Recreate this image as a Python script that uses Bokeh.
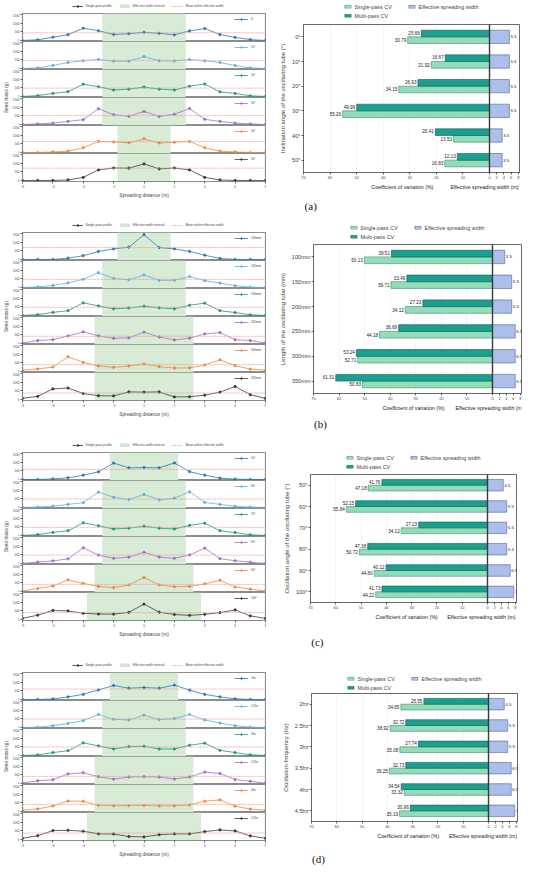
from bokeh.plotting import figure
from bokeh.layouts import column, row
from bokeh.models import (Range1d, FactorRange, FixedTicker, CustomJSTickFormatter, Span,
                          BoxAnnotation, Legend, LegendItem, ColumnDataSource)
from bokeh.embed import file_html
from bokeh.resources import INLINE
from bokeh.transform import dodge
from bokeh.core.properties import value

FONT = "Liberation Sans"

# ---------------- data ----------------
distance = list(range(-8, 9))

# panel (a) inclination angle
a_labels = ["0°", "10°", "20°", "30°", "40°", "50°"]
a_p0 = [0, 40, 190, 340, 720, 570, 350, 400, 480, 420, 330, 560, 700, 350, 180, 50, 0]
a_p10 = [0, 30, 180, 350, 450, 530, 430, 430, 700, 450, 440, 520, 450, 350, 170, 30, 0]
a_p20 = [0, 50, 180, 280, 720, 570, 380, 430, 550, 430, 380, 600, 730, 270, 180, 40, 0]
a_p30 = [0, 30, 80, 180, 280, 920, 570, 480, 760, 470, 600, 930, 300, 180, 80, 30, 0]
a_p40 = [0, 0, 30, 80, 280, 650, 620, 570, 800, 560, 600, 650, 280, 80, 30, 0, 0]
a_p50 = [0, 0, 0, 30, 180, 620, 730, 720, 970, 680, 730, 620, 180, 30, 0, 0, 0]
a_mean = [450, 470, 490, 520, 640, 720]
a_multi = [25.66, 16.67, 26.93, 49.99, 20.41, 12.13]
a_single = [30.79, 21.92, 34.15, 55.26, 13.53, 16.83]
a_width = [5.5, 5.5, 5.5, 5.5, 3.5, 3.5]

# panel (b) tube length
b_labels = ["100mm", "150mm", "200mm", "250mm", "300mm", "350mm"]
b_p100 = [0, 0, 0, 80, 220, 470, 620, 720, 1450, 700, 620, 470, 250, 60, 0, 0, 0]
b_p150 = [0, 30, 120, 270, 480, 870, 530, 450, 730, 420, 420, 640, 400, 260, 100, 20, 0]
b_p200 = [0, 50, 180, 280, 740, 560, 390, 440, 540, 450, 390, 600, 720, 280, 170, 40, 0]
b_p250 = [30, 170, 220, 440, 680, 450, 300, 330, 670, 380, 210, 310, 560, 640, 220, 170, 30]
b_p300 = [80, 150, 260, 860, 530, 330, 240, 320, 440, 280, 200, 210, 380, 680, 340, 140, 80]
b_p350 = [70, 180, 620, 670, 350, 220, 210, 440, 430, 440, 150, 160, 250, 430, 760, 280, 60]
b_mean = [700, 475, 480, 420, 400, 380]
b_multi = [39.51, 33.49, 27.23, 36.69, 53.24, 61.31]
b_single = [50.13, 39.71, 34.12, 44.18, 52.71, 50.83]
b_width = [3.5, 5.5, 5.5, 6.5, 6.5, 6.5]

# panel (c) oscillation angle
c_labels = ["50°", "60°", "70°", "80°", "90°", "100°"]
c_p50 = [0, 0, 30, 100, 250, 450, 960, 680, 700, 680, 970, 460, 250, 80, 20, 0, 0]
c_p60 = [0, 20, 80, 180, 280, 900, 600, 460, 760, 450, 540, 920, 300, 180, 70, 20, 0]
c_p70 = [0, 50, 180, 280, 740, 570, 380, 430, 540, 430, 380, 590, 720, 280, 170, 40, 0]
c_p80 = [0, 80, 150, 270, 920, 490, 300, 370, 660, 380, 300, 500, 900, 280, 160, 70, 0]
c_p90 = [30, 170, 320, 680, 470, 300, 230, 380, 820, 380, 280, 300, 440, 660, 260, 140, 30]
c_p100 = [70, 250, 530, 500, 360, 320, 310, 420, 900, 430, 290, 240, 300, 400, 560, 210, 60]
c_mean = [590, 495, 475, 490, 415, 400]
c_multi = [41.76, 52.15, 27.23, 47.38, 40.12, 41.73]
c_single = [47.18, 55.84, 34.12, 50.72, 44.80, 44.22]
c_width = [4.5, 5.5, 5.5, 5.5, 6.5, 7.5]

# panel (d) oscillation frequency
d_labels = ["2hz", "2.5hz", "3hz", "3.5hz", "4hz", "4.5hz"]
d_p2 = [0, 0, 30, 150, 300, 560, 820, 660, 700, 660, 840, 550, 300, 150, 40, 0, 0]
d_p25 = [0, 20, 100, 240, 400, 760, 480, 440, 720, 460, 520, 760, 440, 260, 100, 20, 0]
d_p3 = [0, 30, 170, 280, 740, 560, 380, 520, 540, 380, 380, 600, 720, 300, 170, 40, 0]
d_p35 = [30, 160, 220, 560, 630, 400, 250, 380, 400, 380, 260, 380, 670, 580, 230, 130, 20]
d_p4 = [80, 150, 320, 610, 600, 360, 330, 340, 360, 320, 330, 380, 600, 680, 310, 140, 80]
d_p45 = [70, 220, 520, 540, 480, 330, 320, 170, 150, 280, 330, 330, 460, 560, 500, 210, 70]
d_mean = [610, 495, 495, 415, 415, 375]
d_multi = [25.55, 32.72, 27.74, 32.73, 34.54, 30.96]
d_single = [34.65, 38.92, 35.08, 39.25, 33.32, 35.19]
d_width = [4.5, 5.5, 5.5, 6.5, 6.5, 7.5]

y_titles = ["Inclination angle of the oscillating tube (°)",
            "Length of the oscillating tube (mm)",
            "Oscillation angle of the oscillating tube (°)",
            "Oscillation frequency (Hz)"]
tags = ["(a)", "(b)", "(c)", "(d)"]

# ---------------- style ----------------
LINE_COLORS = ["#2a79b8", "#5cb3e0", "#1b9c79", "#a46dc9", "#f0893b", "#3c3c3c"]
BAND = "#d7ebd5"
MEANC = "#f29b9b"
C_SINGLE, E_SINGLE = "#93dcb9", "#3e8c6c"
C_MULTI, E_MULTI = "#1ba090", "#0c5e54"
C_WIDTH, E_WIDTH = "#abbfea", "#4f629c"

LEFT_W = 266
YL_W = 9
SUB_W = LEFT_W - YL_W
RIGHT_W = 284
SUB_H = 28
TOP = 13


def bare_fig(w, h, mbl=0, mbr=0, mbt=0, mbb=0, x_range=None, y_range=None):
    p = figure(width=w, height=h, x_range=x_range or Range1d(0, 1),
               y_range=y_range or Range1d(0, 1), output_backend="svg", toolbar_location=None)
    p.min_border = 0
    p.min_border_left = mbl
    p.min_border_right = mbr
    p.min_border_top = mbt
    p.min_border_bottom = mbb
    p.outline_line_color = None
    p.grid.visible = False
    p.xaxis.visible = False
    p.yaxis.visible = False
    return p


def left_legend_fig(prof0, hw0, mean0):
    p = bare_fig(LEFT_W, TOP, mbl=29, mbb=2, x_range=Range1d(-8, 8), y_range=Range1d(0, 1500))
    r1 = p.line(distance, prof0, line_color="#333333", line_width=0.8, visible=False)
    r2 = p.scatter(distance, prof0, size=2.2, fill_color="#333333", line_color="#333333", visible=False)
    r3 = p.vstrip(x0=[-hw0], x1=[hw0], fill_color=BAND, line_color="#b9d8b6", line_width=0.6, visible=False)
    r4 = p.hspan(y=[mean0], line_color=MEANC, line_dash="2 1", line_width=0.8, visible=False)
    tl = Legend(items=[LegendItem(label="Single-pass profile", renderers=[r1, r2]),
                       LegendItem(label="Effective width interval", renderers=[r3]),
                       LegendItem(label="Mean within effective width", renderers=[r4])],
                orientation="horizontal", location="center",
                label_text_font=FONT, label_text_font_size="3.2px", glyph_width=11,
                glyph_height=4, label_height=4, label_standoff=3, padding=0, spacing=7,
                margin=0, border_line_color=None, background_fill_alpha=0,
                inactive_fill_alpha=0)
    p.add_layout(tl)
    return p


def ylabel_fig(bottom_h):
    p = figure(width=YL_W, height=6 * SUB_H + bottom_h, x_range=Range1d(0, 1), y_range=Range1d(0, 1),
               output_backend="svg", toolbar_location=None)
    p.min_border = 0
    p.min_border_left = YL_W - 1
    p.min_border_right = 0
    p.min_border_top = 0
    p.min_border_bottom = bottom_h
    p.outline_line_color = None
    p.grid.visible = False
    p.xaxis.visible = False
    ax = p.yaxis[0]
    ax.ticker = FixedTicker(ticks=[])
    ax.axis_line_color = None
    ax.major_tick_line_color = None
    ax.minor_tick_line_color = None
    ax.axis_label = "Seed mass (g)"
    ax.axis_label_text_font = FONT
    ax.axis_label_text_font_size = "4.8px"
    ax.axis_label_text_font_style = "normal"
    ax.axis_label_standoff = 0
    ax.major_label_standoff = 0
    return p


def subplot(ys, label, color, hw, mean, idx, bottom_h):
    h = SUB_H + (bottom_h if idx == 5 else 0)
    p = figure(width=SUB_W, height=h, x_range=Range1d(-8, 8), y_range=Range1d(-60, 1580),
               output_backend="svg", toolbar_location=None)
    p.min_border_left = 12
    p.min_border_right = 1
    p.min_border_top = 0
    p.min_border_bottom = bottom_h if idx == 5 else 0
    p.outline_line_color = "#8c8c8c"
    p.outline_line_width = 1.2
    p.grid.visible = False
    p.add_layout(BoxAnnotation(left=-hw, right=hw, fill_color=BAND, fill_alpha=1.0,
                               line_color=None, level="underlay"))
    p.add_layout(Span(location=mean, dimension="width", line_color=MEANC,
                      line_dash="2 1", line_width=0.8))
    l = p.line(distance, ys, line_color=color, line_width=0.8)
    s = p.scatter(distance, ys, size=2.2, fill_color=color, line_color=color)
    leg = Legend(items=[LegendItem(label=label, renderers=[l, s])], location="top_right",
                 label_text_font=FONT, label_text_font_size="3px", glyph_width=14,
                 glyph_height=4, label_height=4, label_width=10, label_standoff=3,
                 padding=0, spacing=0, margin=4, border_line_color=None,
                 background_fill_alpha=0)
    p.add_layout(leg)

    ya = p.yaxis[0]
    ya.ticker = FixedTicker(ticks=[0, 500, 1000, 1500])
    ya.major_label_text_font = FONT
    ya.major_label_text_font_size = "3px"
    ya.major_label_standoff = 1
    ya.major_tick_out = 2
    ya.major_tick_in = 0
    ya.minor_tick_line_color = None
    ya.axis_line_color = "#8c8c8c"
    ya.major_tick_line_width = 0.6

    if idx < 5:
        p.xaxis.visible = False
    else:
        xa = p.xaxis[0]
        xa.ticker = FixedTicker(ticks=list(range(-8, 9, 2)))
        xa.major_label_text_font = FONT
        xa.major_label_text_font_size = "3px"
        xa.major_label_standoff = 1
        xa.major_tick_out = 2
        xa.major_tick_in = 0
        xa.minor_tick_line_color = None
        xa.axis_line_color = "#8c8c8c"
        xa.major_tick_line_width = 0.6
        xa.axis_label = "Spreading distance (m)"
        xa.axis_label_text_font = FONT
        xa.axis_label_text_font_size = "4.8px"
        xa.axis_label_text_font_style = "normal"
        xa.axis_label_standoff = 2
    return p


def left_block(profiles, labels, widths, means, panel_h):
    bottom_h = panel_h - TOP - 6 * SUB_H
    subs = [subplot(profiles[i], labels[i], LINE_COLORS[i], widths[i] / 2.0, means[i], i, bottom_h)
            for i in range(6)]
    body = row(ylabel_fig(bottom_h), column(*subs, spacing=0), spacing=0)
    return column(left_legend_fig(profiles[0], widths[0] / 2.0, means[0]), body, spacing=0)


def bar_block(cats, multi, single, widths, ytitle, tag, ft, fh, bl, cvpx, wpx,
              panel_h, tag_y, leg_mbl, leg_mbt, leg_mbb):
    W = 8.3
    L = 70.0 * wpx / cvpx
    WL = W * cvpx / wpx
    br = RIGHT_W - bl - cvpx - wpx
    AXH = 7
    src = ColumnDataSource(dict(cat=cats, multi=multi, single=single, width=widths,
                                multi_t=["%.2f" % v for v in multi],
                                single_t=["%.2f" % v for v in single],
                                width_t=["%g" % v for v in widths]))
    p = figure(width=RIGHT_W, height=fh + AXH, y_range=FactorRange(*reversed(cats)),
               x_range=Range1d(70, -L), output_backend="svg", toolbar_location=None)
    p.min_border_left = bl
    p.min_border_right = br
    p.min_border_top = 0
    p.min_border_bottom = AXH
    p.extra_x_ranges = {"w": Range1d(-WL, W)}
    p.outline_line_color = "#6a6a6a"
    p.outline_line_width = 1
    p.ygrid.visible = False
    p.xgrid.ticker = FixedTicker(ticks=[10, 20, 30, 40, 50, 60])
    p.xgrid.grid_line_color = "#ececec"
    p.xgrid.grid_line_width = 0.6

    p.hbar(y=dodge("cat", -0.135, range=p.y_range), left=0, right="single", height=0.27,
           source=src, fill_color=C_SINGLE, line_color=E_SINGLE, line_width=0.6)
    p.hbar(y=dodge("cat", 0.135, range=p.y_range), left=0, right="multi", height=0.27,
           source=src, fill_color=C_MULTI, line_color=E_MULTI, line_width=0.6)
    p.hbar(y="cat", left=0, right="width", height=0.54, source=src, x_range_name="w",
           fill_color=C_WIDTH, line_color=E_WIDTH, line_width=0.6)
    p.add_layout(Span(location=0, dimension="height", line_color="#3a3a3a", line_width=1.4))

    p.text(x="multi", y=dodge("cat", 0.165, range=p.y_range), text="multi_t", source=src,
           text_align="right", text_baseline="middle", x_offset=-1.5,
           text_font=value(FONT), text_font_size="4.6px", text_color="#222222",
           background_fill_color="white", background_fill_alpha=0.9)
    p.text(x="single", y=dodge("cat", -0.135, range=p.y_range), text="single_t", source=src,
           text_align="right", text_baseline="middle", x_offset=-1.5,
           text_font=value(FONT), text_font_size="4.6px", text_color="#222222")
    p.text(x="width", y="cat", text="width_t", source=src, x_range_name="w",
           text_align="left", text_baseline="middle", x_offset=1,
           text_font=value(FONT), text_font_size="4.4px", text_color="#222222")

    xa = p.xaxis[0]
    xa.ticker = FixedTicker(ticks=[70, 60, 50, 40, 30, 20, 10, 0] + [-w * L / W for w in (2, 4, 6, 8)])
    xa.formatter = CustomJSTickFormatter(args=dict(W=W, L=L), code="""
        if (tick > -1e-6) { return Math.round(tick).toString(); }
        return Math.round(-tick * W / L).toString();
    """)
    xa.major_label_text_font = FONT
    xa.major_label_text_font_size = "4px"
    xa.major_label_standoff = 1
    xa.major_tick_out = 2
    xa.major_tick_in = 0
    xa.minor_tick_line_color = None
    xa.axis_line_color = "#6a6a6a"
    xa.major_tick_line_width = 0.6

    ya = p.yaxis[0]
    ya.major_label_text_font = FONT
    ya.major_label_text_font_size = "5.6px"
    ya.major_label_standoff = 1
    ya.major_tick_out = 2
    ya.major_tick_in = 0
    ya.axis_line_color = "#6a6a6a"
    ya.major_tick_line_width = 0.6
    ya.axis_label = ytitle
    ya.axis_label_text_font = FONT
    ya.axis_label_text_font_size = "6px"
    ya.axis_label_text_font_style = "normal"
    ya.axis_label_standoff = 3

    # legend strip above the chart
    lf = bare_fig(RIGHT_W, ft, mbl=leg_mbl, mbt=leg_mbt, mbb=leg_mbb, y_range=FactorRange(*cats))
    e1 = lf.hbar(y=cats, left=0, right=single, height=0.27, fill_color=C_SINGLE,
                 line_color=E_SINGLE, line_width=0.6, visible=False)
    e2 = lf.hbar(y=cats, left=0, right=multi, height=0.27, fill_color=C_MULTI,
                 line_color=E_MULTI, line_width=0.6, visible=False)
    e3 = lf.hbar(y=cats, left=0, right=widths, height=0.54, fill_color=C_WIDTH,
                 line_color=E_WIDTH, line_width=0.6, visible=False)
    leg = Legend(items=[LegendItem(label="Single-pass CV", renderers=[e1]),
                        LegendItem(label="Multi-pass CV", renderers=[e2]),
                        LegendItem(label="Effective spreading width", renderers=[e3])],
                 orientation="vertical", ncols=2, location="center",
                 label_text_font=FONT, label_text_font_size="5.4px", glyph_width=8,
                 glyph_height=4, label_height=5, label_width=50, label_standoff=3,
                 padding=0, spacing=3, margin=0, border_line_color=None,
                 background_fill_alpha=0, inactive_fill_alpha=0)
    lf.add_layout(leg)

    # caption strip below the chart: axis titles and panel tag
    sh = panel_h - ft - fh - AXH
    sf = bare_fig(RIGHT_W, sh, x_range=Range1d(0, RIGHT_W), y_range=Range1d(0, sh))
    sf.text(x=[bl + cvpx / 2.0, bl + cvpx + wpx / 2.0], y=[sh - 5, sh - 5],
            text=["Coefficient of variation (%)", "Effective spreading width (m)"],
            text_align="center", text_baseline="middle", text_font=value(FONT),
            text_font_size="5.3px", text_color="#222222")
    sf.text(x=[9.5], y=[sh - (tag_y - ft - fh - AXH)], text=[tag], text_align="center",
            text_baseline="middle", text_font=value("Liberation Serif"), text_font_size="11px",
            text_color="#111111")
    return column(lf, p, sf, spacing=0)


panels = [
    dict(prof=[a_p0, a_p10, a_p20, a_p30, a_p40, a_p50], labels=a_labels, mean=a_mean,
         multi=a_multi, single=a_single, width=a_width, h=219,
         ft=24, fh=150, bl=37, cv=186, wp=30, tag_y=205, lm=(5, 0, 2)),
    dict(prof=[b_p100, b_p150, b_p200, b_p250, b_p300, b_p350], labels=b_labels, mean=b_mean,
         multi=b_multi, single=b_single, width=b_width, h=220,
         ft=25, fh=151, bl=47, cv=179, wp=29, tag_y=204, lm=(21, 0, 0)),
    dict(prof=[c_p50, c_p60, c_p70, c_p80, c_p90, c_p100], labels=c_labels, mean=c_mean,
         multi=c_multi, single=c_single, width=c_width, h=220,
         ft=35, fh=130, bl=44, cv=177, wp=29, tag_y=202, lm=(20, 11, 0)),
    dict(prof=[d_p2, d_p25, d_p3, d_p35, d_p4, d_p45], labels=d_labels, mean=d_mean,
         multi=d_multi, single=d_single, width=d_width, h=219,
         ft=34, fh=130, bl=45, cv=177, wp=29, tag_y=199, lm=(17, 13, 0)),
]

rows = []
for k, pd_ in enumerate(panels):
    lb = left_block(pd_["prof"], pd_["labels"], pd_["width"], pd_["mean"], pd_["h"])
    bc = bar_block(pd_["labels"], pd_["multi"], pd_["single"], pd_["width"], y_titles[k], tags[k],
                   pd_["ft"], pd_["fh"], pd_["bl"], pd_["cv"], pd_["wp"], pd_["h"], pd_["tag_y"],
                   *pd_["lm"])
    rows.append(row(lb, bc, spacing=0))

layout = column(*rows, spacing=0)
open("out.html", "w").write(file_html(layout, INLINE))
